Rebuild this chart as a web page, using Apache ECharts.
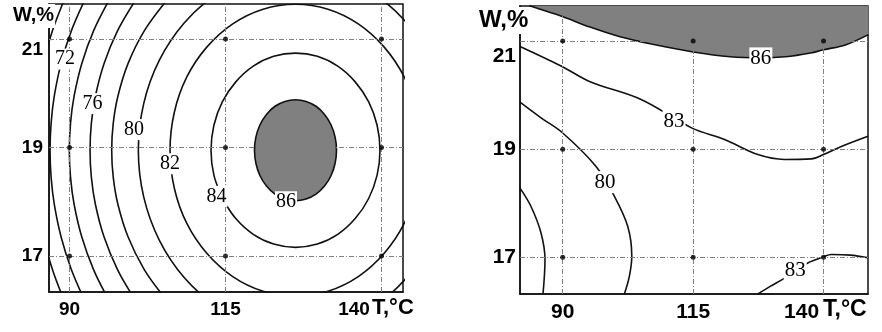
<!DOCTYPE html>
<html><head><meta charset="utf-8">
<script src="https://cdn.jsdelivr.net/npm/echarts@6/dist/echarts.min.js"></script>
<style>html,body{margin:0;padding:0;background:#fff}#c{width:882px;height:332px}</style>
</head><body><div id="c"></div>
<script>
// ---- axes / ticks ----
const tTicks = [90, 115, 140];
const wTicks = [17, 19, 21];
const designT = [90, 115, 140];
const designW = [17, 19, 21];

// ---- left panel contours [T, W] ----
const L70 = [[89.07,21.70],[87.26,21.15],[85.80,20.55],[84.84,19.95],[84.38,19.45],[84.23,18.95],[84.38,18.45],[84.84,17.95],[85.80,17.35],[87.26,16.75],[88.89,16.25]];
const L72 = [[92.36,21.70],[90.29,21.15],[88.65,20.55],[87.56,19.95],[87.05,19.45],[86.88,18.95],[87.05,18.45],[87.56,17.95],[88.65,17.35],[90.29,16.75],[92.15,16.25]];
const L74 = [[96.26,21.70],[93.85,21.15],[91.97,20.55],[90.74,19.95],[90.16,19.45],[89.97,18.95],[90.16,18.45],[90.74,17.95],[91.97,17.35],[93.85,16.75],[96.01,16.25]];
const L76 = [[100.49,21.70],[97.69,21.15],[95.54,20.55],[94.15,19.95],[93.50,19.45],[93.29,18.95],[93.50,18.45],[94.15,17.95],[95.54,17.35],[97.69,16.75],[100.20,16.25]];
const L78 = [[105.49,21.70],[101.98,21.15],[99.39,20.55],[97.76,19.95],[97.01,19.45],[96.76,18.95],[97.01,18.45],[97.76,17.95],[99.39,17.35],[101.98,16.75],[105.11,16.25]];
const L80 = [[151.41,18.95],[150.55,19.81],[148.04,20.61],[144.03,21.30],[138.82,21.83],[132.74,22.16],[126.22,22.28],[119.70,22.16],[113.62,21.83],[108.41,21.30],[104.40,20.61],[101.89,19.81],[101.03,18.95],[101.89,18.09],[104.40,17.29],[108.41,16.60],[113.62,16.07],[119.70,15.74],[126.22,15.62],[132.74,15.74],[138.82,16.07],[144.03,16.60],[148.04,17.29],[150.55,18.09],[151.41,18.95]];
const L82 = [[146.33,18.95],[145.64,19.65],[143.64,20.30],[140.44,20.85],[136.28,21.28],[131.42,21.55],[126.22,21.64],[121.02,21.55],[116.16,21.28],[112.00,20.85],[108.80,20.30],[106.80,19.65],[106.11,18.95],[106.80,18.25],[108.80,17.60],[112.00,17.05],[116.16,16.62],[121.02,16.35],[126.22,16.26],[131.42,16.35],[136.28,16.62],[140.44,17.05],[143.64,17.60],[145.64,18.25],[146.33,18.95]];
const L84 = [[114.49,18.06],[116.65,17.69],[119.45,17.40],[122.72,17.22],[126.22,17.16],[129.72,17.22],[132.99,17.40],[135.79,17.69],[137.95,18.06],[139.30,18.49],[139.76,18.95],[139.30,19.41],[137.95,19.84],[135.79,20.21],[132.99,20.50],[129.72,20.68],[126.22,20.74],[122.72,20.68],[119.45,20.50],[116.65,20.21],[114.49,19.84],[113.14,19.41],[112.68,18.95],[113.14,18.49],[114.49,18.06]];
const L86 = [[132.79,18.95],[132.57,19.19],[131.91,19.42],[130.87,19.61],[129.51,19.76],[127.92,19.85],[126.22,19.88],[124.52,19.85],[122.93,19.76],[121.57,19.61],[120.53,19.42],[119.87,19.19],[119.65,18.95],[119.87,18.71],[120.53,18.48],[121.57,18.29],[122.93,18.14],[124.52,18.05],[126.22,18.02],[127.92,18.05],[129.51,18.14],[130.87,18.29],[131.91,18.48],[132.57,18.71]];
const leftLabelPos = [[89.28,20.63],[93.69,19.81],[100.34,19.33],[106.10,18.70],[113.56,18.10],[124.70,18.00]];
const leftLabelText = ['72','76','80','82','84','86'];

// ---- right panel contours [T, W] ----
const R86 = [[83.53,21.66],[86.60,21.56],[90.06,21.45],[95.24,21.26],[101.0,21.08],[106.75,20.95],[115.0,20.80],[122.1,20.71],[127.9,20.69],[132.7,20.71],[137.5,20.78],[140.0,20.84],[144.2,20.93],[148.6,21.12]];
const R83a = [[81.81,20.90],[89.87,20.53],[95.24,20.25],[105.02,19.92],[114.8,19.39],[121.01,19.18],[127.41,18.90],[132.52,18.81],[137.64,18.82],[140.0,18.90],[143.40,19.05],[148.52,19.24]];
const R80 = [[81.81,19.87],[85.84,19.58],[90.0,19.30],[96.39,18.68],[99.90,18.13],[102.47,17.57],[103.24,17.02],[102.78,16.65],[101.82,16.32]];
const RlowLeft = [[81.81,18.28],[83.92,17.94],[85.84,17.45],[86.60,16.96],[86.22,16.32]];
const R83b = [[127.41,16.32],[129.77,16.46],[132.46,16.61],[134.57,16.75],[137.06,16.90],[140.0,17.01],[141.48,17.05],[145.13,17.04],[148.52,16.99]];
const rightLabelPos = [[127.98,20.68],[111.33,19.52],[98.12,18.39],[134.57,16.75]];
const rightLabelText = ['86','83','80','83'];

// ---- styling helpers ----
const SANS = "'Liberation Sans',Arial,sans-serif";
const SERIF = "'Liberation Serif','Times New Roman',serif";
const LINE = '#111';

const designPts = [];
designT.forEach(t => designW.forEach(w => designPts.push([t, w])));

function contour(data, gi) {
  return {type:'line', xAxisIndex:gi, yAxisIndex:gi, data, smooth:0.35, symbol:'none', showSymbol:false,
    lineStyle:{color:LINE, width:1.6}, z:3, silent:true, clip:true, animation:false};
}
function dots(gi) {
  return {type:'scatter', xAxisIndex:gi, yAxisIndex:gi, data:designPts, symbolSize:5, itemStyle:{color:'#000'}, z:6, silent:true,
    markLine:{silent:true, symbol:['none','none'], label:{show:false}, animation:false,
      lineStyle:{color:'#808080', width:1, type:[5,2,1,2]},
      data: tTicks.map(v => ({xAxis:v})).concat(wTicks.map(v => ({yAxis:v})))}};
}
function labels(pos, txt, gi, size) {
  return {type:'scatter', xAxisIndex:gi, yAxisIndex:gi, symbolSize:1, itemStyle:{color:'rgba(0,0,0,0)'}, z:10, silent:true,
    data: pos.map((p,i) => ({value:p, name:txt[i]})),
    label:{show:true, position:'inside', formatter:'{b}', color:'#000', opacity:1, fontFamily:SERIF, fontSize:size,
      backgroundColor:'#fff', padding:[1,1,0,1]}};
}
function xAx(gi, min, max, size, shift) {
  return {gridIndex:gi, type:'value', min, max,
    axisLine:{show:true, lineStyle:{color:LINE, width:1.5}}, axisTick:{show:false}, splitLine:{show:false},
    axisLabel:{customValues:tTicks, margin:8, color:'#000', fontFamily:SANS, fontWeight:'bold', fontSize:size, verticalAlign:'top',
      formatter: v => v === 140 ? '{e|140}' : String(v),
      rich:{e:{padding:[0, shift, 0, 0], color:'#000', fontFamily:SANS, fontWeight:'bold', fontSize:size}}}};
}
function yAx(gi, min, max, size, margin, drop) {
  return {gridIndex:gi, type:'value', min, max,
    axisLine:{show:true, lineStyle:{color:LINE, width:1.5}}, axisTick:{show:false}, splitLine:{show:false},
    axisLabel:{customValues:wTicks, margin, color:'#000', fontFamily:SANS, fontWeight:'bold', fontSize:size,
      formatter: v => v === 21 ? '{e|21}' : String(v),
      rich:{e:{padding:[drop, 0, 0, 0], color:'#000', fontFamily:SANS, fontWeight:'bold', fontSize:size}}}};
}

const option = {
  animation:false,
  backgroundColor:'#fff',
  grid:[
    {left:49, top:4, width:354, height:288, show:true, borderColor:LINE, borderWidth:1.5, outerBoundsMode:'none'},
    {left:520, top:6, width:348, height:288, show:true, borderColor:LINE, borderWidth:1.5, outerBoundsMode:'none'}
  ],
  xAxis:[xAx(0, 86.71, 143.45, 19, 55), xAx(1, 81.81, 148.52, 21, 44)],
  yAxis:[yAx(0, 16.337, 21.645, 19, 6, 22), yAx(1, 16.32, 21.65, 21, 4, 30)],
  series:[
    {type:'custom', xAxisIndex:0, yAxisIndex:0, data:L86, z:2, silent:true, clip:true,
      renderItem:(params, api) => {
        if (params.dataIndex !== 0) return null;
        return {type:'polygon', shape:{points:L86.map(p => api.coord(p)), smooth:0.35},
          style:{fill:'#808080', stroke:LINE, lineWidth:1.6}};
      }},
    contour(L70,0), contour(L72,0), contour(L74,0), contour(L76,0), contour(L78,0),
    contour(L80,0), contour(L82,0), contour(L84,0),
    dots(0),
    labels(leftLabelPos, leftLabelText, 0, 20),
    Object.assign(contour(R86,1), {areaStyle:{color:'#808080', opacity:1, origin:'end'}, z:2}),
    contour(R83a,1), contour(R80,1), contour(RlowLeft,1), contour(R83b,1),
    dots(1),
    labels(rightLabelPos, rightLabelText, 1, 21)
  ],
  graphic:[
    {type:'text', left:12, top:4, z:100, silent:true,
      style:{text:'W,%', font:"bold 20px " + SANS, fill:'#000', backgroundColor:'#fff', padding:[1,1,3,1]}},
    {type:'text', left:478, top:7, z:100, silent:true,
      style:{text:'W,%', font:"bold 24px " + SANS, fill:'#000', backgroundColor:'#fff', padding:[1,1,2,1]}},
    {type:'text', left:372, top:297, z:100, silent:true,
      style:{text:'T,°C', font:"bold 22px " + SANS, fill:'#000'}},
    {type:'text', left:823, top:298, z:100, silent:true,
      style:{text:'T,°C', font:"bold 23px " + SANS, fill:'#000'}}
  ]
};
const chart = echarts.init(document.getElementById('c'));
chart.setOption(option);
</script></body></html>
